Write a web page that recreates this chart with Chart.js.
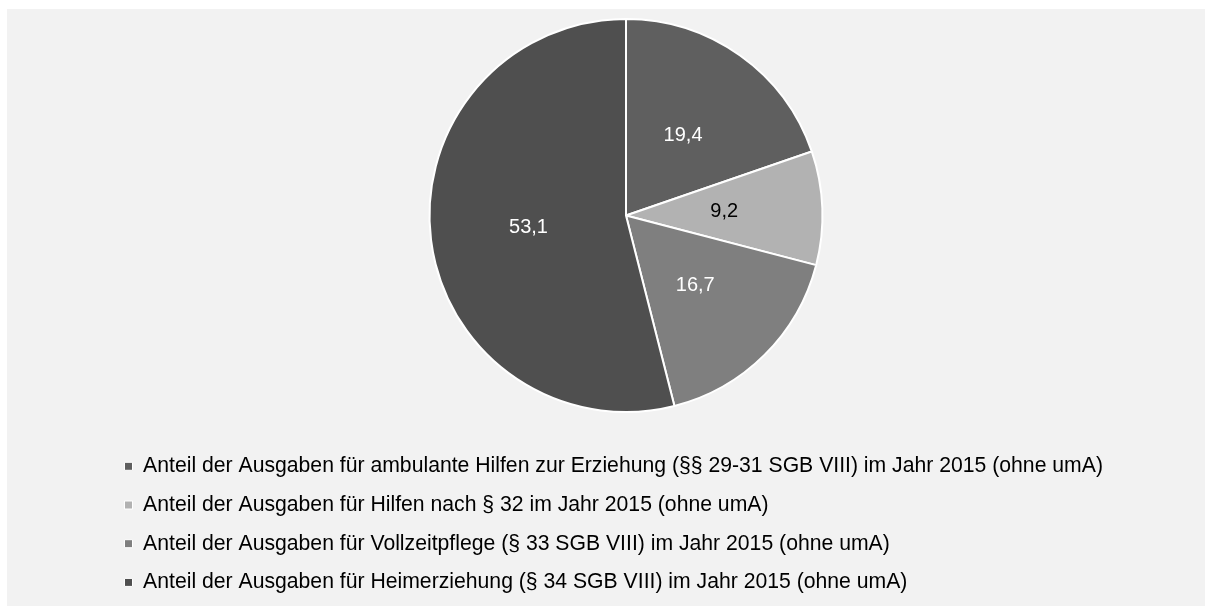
<!DOCTYPE html>
<html lang="de">
<head>
<meta charset="utf-8">
<title>Anteil der Ausgaben 2015</title>
<script src="https://cdn.jsdelivr.net/npm/chart.js@4/dist/chart.umd.min.js"></script>
<style>
  html, body { margin: 0; padding: 0; background: #ffffff; }
  #wrap { position: absolute; left: 7px; top: 9px; width: 1198px; height: 597px; background: #f2f2f2; }
</style>
</head>
<body>
<div id="wrap"><canvas id="pie"></canvas></div>
<script>
// categories and values (percent, as printed in the chart)
const categories = [
  "Anteil der Ausgaben für ambulante Hilfen zur Erziehung (§§ 29-31 SGB VIII) im Jahr 2015 (ohne umA)",
  "Anteil der Ausgaben für Hilfen nach § 32 im Jahr 2015 (ohne umA)",
  "Anteil der Ausgaben für Vollzeitpflege (§ 33 SGB VIII) im Jahr 2015 (ohne umA)",
  "Anteil der Ausgaben für Heimerziehung (§ 34 SGB VIII) im Jahr 2015 (ohne umA)"
];
const shares = [19.4, 9.2, 16.7, 53.1];
const sliceColors = ["#5f5f5f", "#b2b2b2", "#7f7f7f", "#4f4f4f"];
const labelColors = ["#ffffff", "#000000", "#ffffff", "#ffffff"];

Chart.defaults.font.family = "'Liberation Sans', Arial, sans-serif";
Chart.defaults.color = "#000000";

// value labels in the middle of every slice, German decimal comma
const sliceLabels = {
  id: "sliceLabels",
  afterDatasetsDraw(chart) {
    const { ctx } = chart;
    const meta = chart.getDatasetMeta(0);
    ctx.save();
    ctx.font = "20px 'Liberation Sans', Arial, sans-serif";
    ctx.textAlign = "center";
    ctx.textBaseline = "middle";
    meta.data.forEach((arc, i) => {
      const p = arc.tooltipPosition();
      ctx.fillStyle = labelColors[i];
      ctx.fillText(shares[i].toFixed(1).replace(".", ","), p.x, p.y);
    });
    ctx.restore();
  }
};

new Chart(document.getElementById("pie"), {
  type: "pie",
  data: {
    labels: categories,
    datasets: [{
      data: shares,
      backgroundColor: sliceColors,
      borderColor: "#ffffff",
      borderWidth: 2
    }]
  },
  options: {
    responsive: true,
    maintainAspectRatio: false,
    animation: false,
    layout: { padding: { left: 100, right: 60, top: 9, bottom: 3 } },
    plugins: {
      tooltip: { enabled: false },
      legend: {
        position: "bottom",
        align: "start",
        // empty title only used as a spacer between pie and legend
        title: { display: true, text: "", font: { size: 1 }, padding: { top: 0, bottom: 24 } },
        labels: {
          boxWidth: 8,
          boxHeight: 8,
          padding: 17.5,
          color: "#000000",
          font: { size: 21.2 },
          generateLabels(chart) {
            return chart.data.labels.map((text, i) => ({
              text,
              fillStyle: sliceColors[i],
              strokeStyle: "#ffffff",
              lineWidth: 1,
              fontColor: "#000000",
              hidden: false,
              index: i
            }));
          }
        }
      }
    }
  },
  plugins: [sliceLabels]
});
</script>
</body>
</html>
